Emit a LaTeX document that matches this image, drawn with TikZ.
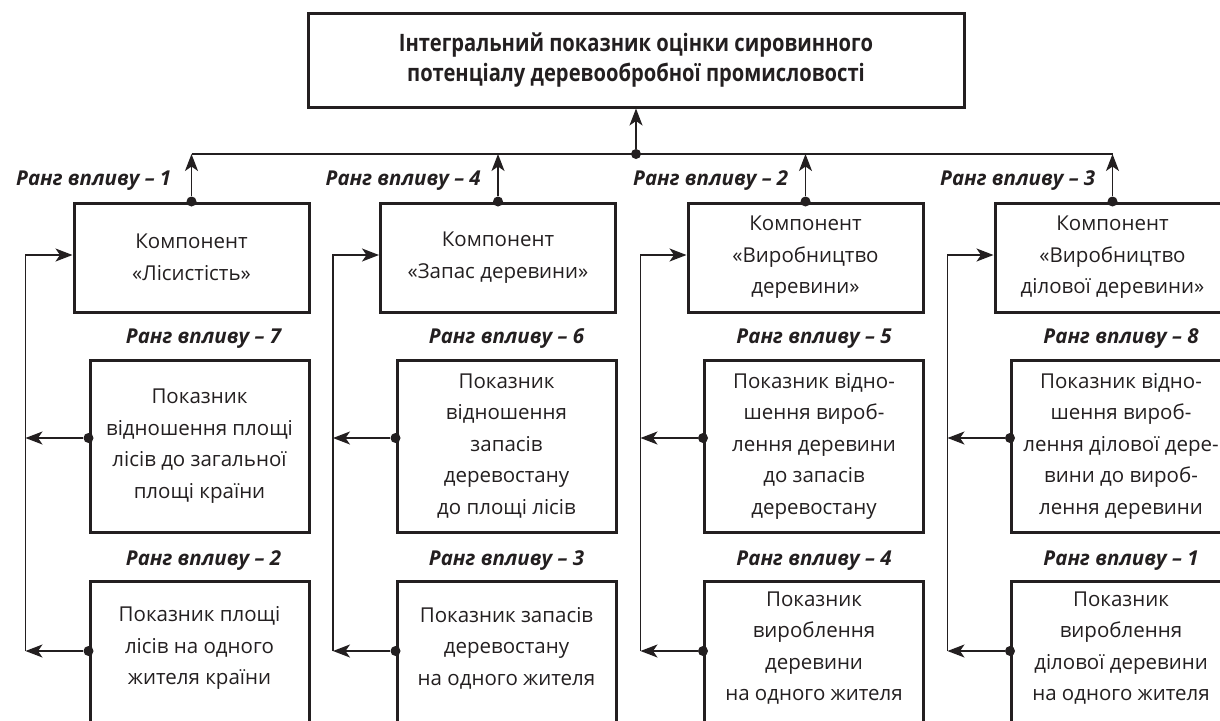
\documentclass[tikz,border=0pt]{standalone}
\usepackage{fontspec}
\setmainfont{Open Sans}
\newfontfamily\titlefont[FakeStretch=0.84]{Open Sans}
\usepackage{xcolor}
\usetikzlibrary{arrows.meta,positioning}
\definecolor{ink}{HTML}{231F20}

\begin{document}
\begin{tikzpicture}[x=1pt,y=-1pt,
    every node/.style={text=ink, font=\fontsize{20.5}{31.5}\selectfont},
    box/.style={draw=ink, line width=3pt, align=center, inner sep=0pt},
    komp/.style={box, minimum width=235pt, minimum height=109pt},
    pok/.style={box, minimum width=219pt, minimum height=172pt},
    rang/.style={inner sep=0pt, font=\fontsize{20.5}{31.5}\selectfont\bfseries\itshape},
    link/.style={draw=ink, line width=1.5pt},
    arr/.style={link, -{Stealth[length=17pt,width=13pt,inset=4.5pt]}},
    dot/.style={circle, fill=ink, inner sep=0pt, minimum size=10pt}]

    \useasboundingbox (0,0) rectangle (1220,720);
    \clip (0,0) rectangle (1220,720);

    % integral indicator
    \node[box, minimum width=656pt, minimum height=94pt,
          font=\fontsize{24}{30}\titlefont\bfseries] (top) at (636,60)
        {Інтегральний показник оцінки сировинного\\потенціалу деревообробної промисловості};
    \coordinate (bus) at (636,154);

    % components
    \node[komp] (k1) at (191.5,257.5) {Компонент\\«Лісистість»};
    \node[komp] (k2) at (498,257.5) {Компонент\\«Запас деревини»};
    \node[komp] (k3) at (805.5,257.5) {Компонент\\«Виробництво\\деревини»};
    \node[komp] (k4) at (1112.5,257.5) {Компонент\\«Виробництво\\ділової деревини»};

    \node[rang, anchor=base east] (r1) at ([xshift=-20pt,yshift=16pt]k1.north) {Ранг впливу – 1};
    \node[rang, anchor=base east] (r2) at ([xshift=-17pt,yshift=16pt]k2.north) {Ранг впливу – 4};
    \node[rang, anchor=base east] (r3) at ([xshift=-17pt,yshift=16pt]k3.north) {Ранг впливу – 2};
    \node[rang, anchor=base east] (r4) at ([xshift=-17pt,yshift=16pt]k4.north) {Ранг впливу – 3};

    % indicators, first row
    \node[pok] (p1) at (199.5,446) {Показник\\відношення площі\\лісів до загальної\\площі країни};
    \node[pok] (p2) at (506.5,446) {Показник\\відношення\\запасів\\деревостану\\до площі лісів};
    \node[pok] (p3) at (814,446) {Показник відно-\\шення вироб-\\лення деревини\\до запасів\\деревостану};
    \node[pok] (p4) at (1121,446) {Показник відно-\\шення вироб-\\лення ділової дере-\\вини до вироб-\\лення деревини};

    \node[rang, anchor=base] (r5) at ([xshift=4pt,yshift=15pt]p1.north) {Ранг впливу – 7};
    \node[rang, anchor=base] (r6) at ([yshift=15pt]p2.north) {Ранг впливу – 6};
    \node[rang, anchor=base] (r7) at ([yshift=15pt]p3.north) {Ранг впливу – 5};
    \node[rang, anchor=base] (r8) at ([yshift=15pt]p4.north) {Ранг впливу – 8};

    % indicators, second row
    \node[pok, anchor=north, minimum height=180pt] (q1) at (199.5,580) {};
    \node[pok, anchor=north, minimum height=180pt] (q2) at (506.5,580) {};
    \node[pok, anchor=north, minimum height=180pt] (q3) at (814,580) {};
    \node[pok, anchor=north, minimum height=180pt] (q4) at (1121,580) {};
    \node[align=center] (t1) at (199.5,648) {Показник площі\\лісів на одного\\жителя країни};
    \node[align=center] (t2) at (506.5,648) {Показник запасів\\деревостану\\на одного жителя};
    \node[align=center] (t3) at (814,648) {Показник\\вироблення\\деревини\\на одного жителя};
    \node[align=center] (t4) at (1121,648) {Показник\\вироблення\\ділової деревини\\на одного жителя};

    \node[rang, anchor=base] (r9) at ([xshift=4pt,yshift=15pt]q1.north) {Ранг впливу – 2};
    \node[rang, anchor=base] (r10) at ([yshift=15pt]q2.north) {Ранг впливу – 3};
    \node[rang, anchor=base] (r11) at ([yshift=15pt]q3.north) {Ранг впливу – 4};
    \node[rang, anchor=base] (r12) at ([yshift=15pt]q4.north) {Ранг впливу – 1};

    % links to the integral indicator
    \draw[link] (k1.north |- bus) -- (k4.north |- bus);
    \node[dot] (d0) at (bus) {};
    \draw[arr] (d0) -- (top.south);
    \node[dot] (d1) at (k1.north) {};
    \node[dot] (d2) at (k2.north) {};
    \node[dot] (d3) at (k3.north) {};
    \node[dot] (d4) at (k4.north) {};
    \draw[arr] (d1) -- (d1 |- bus);
    \draw[arr] (d2) -- (d2 |- bus);
    \draw[arr] (d3) -- (d3 |- bus);
    \draw[arr] (d4) -- (d4 |- bus);

    % links from indicators to components
    \coordinate (l1) at ([xshift=-47pt,yshift=2.5pt]k1.west);
    \coordinate (l2) at ([xshift=-46pt,yshift=2.5pt]k2.west);
    \coordinate (l3) at ([xshift=-46pt,yshift=2.5pt]k3.west);
    \coordinate (l4) at ([xshift=-46pt,yshift=2.5pt]k4.west);

    \node[dot] (e1) at ([yshift=8pt]p1.west) {};
    \node[dot] (e2) at ([yshift=8pt]p2.west) {};
    \node[dot] (e3) at ([yshift=8pt]p3.west) {};
    \node[dot] (e4) at ([yshift=8pt]p4.west) {};
    \node[dot] (f1) at (q1.west |- 0,651) {};
    \node[dot] (f2) at (q2.west |- 0,651) {};
    \node[dot] (f3) at (q3.west |- 0,651) {};
    \node[dot] (f4) at (q4.west |- 0,651) {};

    \draw[arr] (f1 -| l1) -- (l1) -- (l1 -| k1.west);
    \draw[arr] (f2 -| l2) -- (l2) -- (l2 -| k2.west);
    \draw[arr] (f3 -| l3) -- (l3) -- (l3 -| k3.west);
    \draw[arr] (f4 -| l4) -- (l4) -- (l4 -| k4.west);
    \draw[arr] (e1) -- (e1 -| l1);
    \draw[arr] (e2) -- (e2 -| l2);
    \draw[arr] (e3) -- (e3 -| l3);
    \draw[arr] (e4) -- (e4 -| l4);
    \draw[arr] (f1) -- (f1 -| l1);
    \draw[arr] (f2) -- (f2 -| l2);
    \draw[arr] (f3) -- (f3 -| l3);
    \draw[arr] (f4) -- (f4 -| l4);
\end{tikzpicture}
\end{document}
